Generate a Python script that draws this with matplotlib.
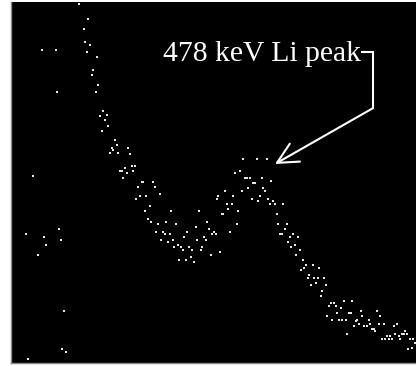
import matplotlib
matplotlib.use("Agg")
import matplotlib.pyplot as plt

# Spectrum counts per channel (upper branch, peak region and tail)
channel = [
    67.7, 77.3, 72.7, 74.3, 79.0, 76.0, 86.0, 82.3, 81.0, 87.3, 84.7,
    92.3, 89.0, 95.7, 94.0, 97.3, 90.7, 104.0, 105.7, 100.7, 102.3, 117.3,
    99.0, 107.3, 119.0, 120.7, 124.0, 114.0, 109.0, 110.7, 115.7, 122.3,
    112.3, 130.7, 132.3, 142.3, 127.3, 144.0,
    148.7, 128.7, 135.3, 125.3, 138.7, 133.7, 160.3, 188.3, 137.0, 140.3,
    147.0, 155.3, 165.3, 196.3, 184.7, 198.0, 145.3, 152.0, 153.7, 158.7,
    176.3, 173.3, 193.0, 201.3, 203.0, 204.7, 150.3, 156.7, 161.7, 186.3,
    194.7, 166.7, 163.3, 170.0, 178.3, 191.3, 171.7, 181.3, 189.7, 209.3,
    199.7, 179.7, 168.3, 175.0, 183.0,
    232.3, 245.7, 255.7, 224.3, 229.3, 234.3, 235.7, 239.0, 250.7, 242.3,
    244.0, 260.3, 237.3, 252.3, 230.7, 254.0, 214.0, 207.3, 222.3, 249.0,
    205.7, 240.7, 247.3, 257.3, 262.3, 215.7, 220.7, 259.0, 264.0, 272.3,
    217.3, 227.3, 210.7, 212.3, 265.7, 225.7, 267.3, 275.7, 274.0, 219.0,
    269.0, 270.7, 282.3, 279.0, 287.3,
    277.0, 280.3, 283.7, 288.7, 285.3, 291.7, 295.0, 301.7, 293.3, 290.0,
    308.3, 298.3, 296.7, 303.3, 306.7, 313.3, 305.0, 300.0, 314.7, 311.3,
    309.7,
    320.0, 323.3, 318.3, 325.0, 329.7, 333.0, 341.3, 326.3, 338.0, 339.7,
    349.7, 316.3, 351.3, 366.0, 369.3, 321.3, 328.0, 331.3, 334.7, 346.3,
    344.7, 357.7, 348.0, 343.0, 353.0, 356.3, 359.3, 367.7, 372.7, 361.0,
    362.7, 364.3, 336.3, 382.7, 386.0, 376.0, 379.3, 384.3, 387.7, 391.0,
    392.7, 394.3, 396.0, 371.0, 374.3, 377.7, 381.0, 389.3, 399.0, 402.3,
    404.0, 400.7, 397.3,
]
counts = [
    358.7, 344.0, 334.0, 320.7, 317.7, 310.7, 305.7, 292.7, 287.7, 277.7, 271.3,
    251.7, 246.7, 248.3, 243.3, 236.7, 231.7, 223.3, 218.3, 215.0, 213.3, 215.0,
    210.0, 210.0, 208.7, 197.0, 197.0, 195.3, 192.0, 192.0, 190.3, 192.0,
    185.3, 180.7, 180.7, 180.7, 175.7, 175.7,
    169.0, 167.3, 167.3, 164.0, 157.3, 152.3, 152.3, 152.3, 144.0, 140.7,
    139.3, 140.7, 139.3, 140.7, 135.7, 134.0, 131.0, 131.0, 129.3, 129.3,
    131.0, 126.0, 126.0, 129.3, 131.0, 129.3, 122.7, 121.0, 122.7, 122.7,
    122.7, 117.7, 116.0, 116.0, 116.0, 116.0, 112.7, 112.7, 112.7, 111.3,
    107.7, 106.0, 103.0, 103.0, 101.3,
    203.7, 203.7, 203.7, 190.3, 192.0, 185.3, 185.3, 185.3, 185.3, 180.3,
    180.3, 182.0, 175.3, 175.3, 172.0, 172.0, 172.3, 167.3, 167.3, 167.3,
    164.0, 164.0, 162.3, 164.0, 162.3, 159.0, 159.0, 159.0, 159.0, 159.0,
    154.0, 152.3, 149.3, 149.3, 149.3, 139.3, 139.3, 139.3, 134.3, 131.0,
    129.3, 129.3, 129.3, 126.0, 126.0,
    121.0, 116.3, 118.0, 113.0, 108.0, 103.0, 98.0, 98.0, 94.7, 93.0,
    94.7, 88.0, 84.7, 84.7, 84.7, 84.7, 79.7, 78.0, 78.0, 71.7,
    66.7,
    60.0, 60.0, 56.7, 56.7, 55.0, 61.7, 61.7, 50.0, 50.0, 50.0,
    51.7, 46.7, 46.7, 51.7, 46.7, 43.3, 43.3, 43.3, 43.3, 43.3,
    41.7, 43.3, 38.7, 37.0, 37.0, 37.0, 38.7, 38.7, 38.7, 33.7,
    33.7, 32.0, 28.7, 37.0, 38.7, 27.0, 27.0, 28.7, 27.0, 28.7,
    28.7, 32.0, 28.7, 23.7, 23.7, 23.7, 23.7, 23.7, 23.7, 23.7,
    20.3, 15.3, 13.7,
]

# Scattered background hits away from the main spectrum
stray_channel = [31.3, 44.7, 46.3, 21.7, 48.0, 15.0, 33.3, 49.7, 35.0, 26.7,
                 53.0, 51.3, 54.7, 16.7]
stray_counts = [312.7, 312.7, 271.3, 187.3, 134.3, 129.3, 126.0, 122.7, 117.7,
                107.7, 51.7, 14.0, 10.7, 4.0]

label = "478 keV Li peak"
label_pos = (151.7, 302.0)
bracket_x = [351.0, 361.7, 361.7]
bracket_y = [311.3, 311.3, 254.7]
peak_tip = (264.0, 199.0)

fig = plt.figure(figsize=(4.16, 3.66), dpi=100)
fig.patch.set_facecolor("white")
ax = fig.add_axes([11 / 416, 3 / 366, 1.0, 361 / 366])
ax.set_facecolor("black")

ax.plot(channel, counts, linestyle="none", marker="s", markersize=1.5,
        color="#e6e6e6", markeredgewidth=0)
ax.plot(stray_channel, stray_counts, linestyle="none", marker="s",
        markersize=1.5, color="#e6e6e6", markeredgewidth=0)

ax.text(label_pos[0], label_pos[1], label, color="white", fontsize=21.3,
        family="Liberation Serif", va="baseline", ha="left")
ax.plot(bracket_x, bracket_y, color="white", lw=1.5, solid_joinstyle="miter")
ax.annotate("", xy=peak_tip, xytext=(bracket_x[-1], bracket_y[-1]),
            arrowprops=dict(arrowstyle="->", color="white", lw=1.5,
                            mutation_scale=37, shrinkA=0, shrinkB=0))

ax.set_xlim(0, 416)
ax.set_ylim(0, 361)
ax.set_xticks([])
ax.set_yticks([])
for side in ("top", "right"):
    ax.spines[side].set_visible(False)
for side in ("left", "bottom"):
    ax.spines[side].set_color("#888888")
    ax.spines[side].set_linewidth(1.0)

fig.savefig("out.png", dpi=100, facecolor="white")
